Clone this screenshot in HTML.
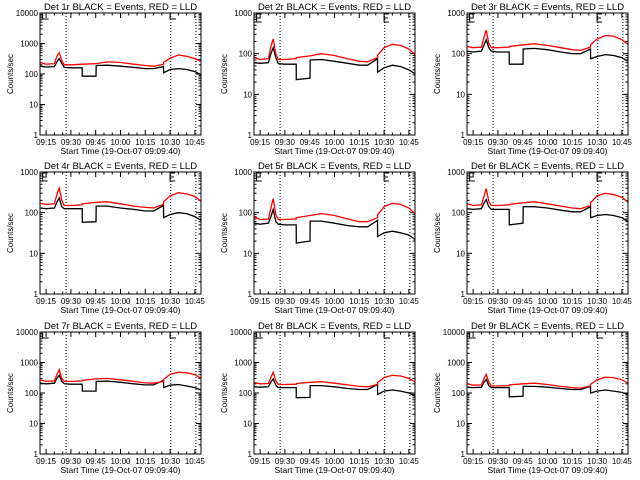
<!DOCTYPE html>
<html><head><meta charset="utf-8"><style>
html,body{margin:0;padding:0;background:#fff;width:640px;height:480px;overflow:hidden}
svg{display:block}
text{font-family:"Liberation Sans",sans-serif;fill:#000}
</style></head><body>
<svg id="chart" width="640" height="480" viewBox="0 0 640 480" xmlns="http://www.w3.org/2000/svg"></svg>
<script>
// minutes after 09:00
const times=[11.3,15,20,21.5,22.9,24.5,26,30,36.8,36.9,45.2,45.3,52,60,68,75,80,86,86.1,90,95,100,105,108.7];
const tickLabels=["09:15","09:30","09:45","10:00","10:15","10:30","10:45"];
const tickMinutes=[15,30,45,60,75,90,105];
const markerMinutes=[27.1,90.4,105.6];
const detNames=["1r","2r","3r","4r","5r","6r","7r","8r","9r"];
const yMaxes=[10000,1000,1000,1000,1000,1000,10000,10000,10000];
const black1=[180,170,175,250,320,220,165,160,160,85,85,190,195,180,165,150,150,175,110,140,150,140,120,95];
const red1=[240,210,220,380,500,280,200,200,210,210,220,220,250,240,210,190,180,210,240,330,420,380,320,260];
const black2=[60,58,60,100,140,80,57,55,55,23,25,70,72,65,58,52,52,75,35,45,52,48,40,32];
const red2=[80,72,75,150,230,100,72,72,75,80,88,88,100,90,75,65,63,80,92,140,170,160,130,95];
const black3=[115,110,115,160,220,140,115,110,110,55,55,130,135,125,110,100,100,130,75,85,95,90,80,65];
const red3=[150,140,145,250,380,180,140,140,145,150,165,165,175,160,140,125,120,145,165,230,280,270,220,170];
const black4=[130,125,130,180,230,140,125,125,125,58,60,145,145,130,120,110,110,150,75,90,100,95,80,65];
const red4=[170,160,165,280,400,200,150,150,155,165,180,180,185,165,145,135,130,160,185,260,310,290,250,190];
const black5=[55,52,55,80,120,60,52,50,50,18,20,62,62,55,48,45,45,65,26,32,35,32,28,22];
const red5=[80,68,70,130,220,90,68,68,70,75,85,85,95,85,70,60,60,75,88,140,170,160,130,95];
const black6=[125,120,125,170,210,140,120,120,120,50,55,140,140,130,115,105,105,140,75,85,90,85,75,60];
const red6=[165,150,155,250,390,190,150,150,155,160,175,175,185,165,145,130,125,150,175,260,300,280,240,180];
const black7=[210,200,210,300,380,240,200,195,195,115,115,240,245,225,200,185,185,260,150,180,190,170,150,125];
const red7=[270,240,250,400,580,300,240,240,250,260,290,290,300,270,240,215,210,240,280,410,480,460,400,300];
const black8=[160,155,160,230,290,180,150,150,150,70,72,175,175,160,140,130,130,190,90,115,125,115,100,80];
const red8=[220,200,205,330,480,250,190,190,195,205,225,225,235,210,185,165,160,190,220,320,380,360,300,230];
const black9=[155,150,155,220,280,175,150,150,150,75,78,165,165,155,140,130,130,165,100,115,125,115,105,88];
const red9=[200,180,185,290,410,230,170,170,175,185,200,200,210,190,165,150,145,170,195,270,330,320,270,210];
const blacks=[black1,black2,black3,black4,black5,black6,black7,black8,black9];
const reds=[red1,red2,red3,red4,red5,red6,red7,red8,red9];

const NS="http://www.w3.org/2000/svg";
const svg=document.getElementById('chart');
const colL=[40,254,467], rowT=[13,172,332], W=161, H=122;
const T0=11.3, T1=108.7;
function mk(tag,attrs,parent){const e=document.createElementNS(NS,tag);for(const k in attrs)e.setAttribute(k,attrs[k]);parent.appendChild(e);return e;}

for(let p=0;p<9;p++){
  const L=colL[p%3], T=rowT[Math.floor(p/3)], ymax=yMaxes[p];
  const dec=Math.log10(ymax);
  const xs=m=>L+(m-T0)/(T1-T0)*W;
  const ys=v=>T+H-Math.log10(v)/dec*H;
  const g=mk('g',{},svg);
  
  
  const t=mk('text',{x:L+W/2,y:T-3,'text-anchor':'middle','font-size':'9.5'},g);
  t.textContent='Det '+detNames[p]+' BLACK = Events, RED = LLD';
  
  
  for(let d=0;d<=dec;d++){
    const v=Math.pow(10,d), y=ys(v);
    mk('line',{x1:L,x2:L+5,y1:y,y2:y,stroke:'#000'},g);
    mk('line',{x1:L+W-5,x2:L+W,y1:y,y2:y,stroke:'#000'},g);
    const lb=mk('text',{x:L-2,y:y+3,'text-anchor':'end','font-size':'8'},g);
    lb.textContent=String(v);
    
    
    if(d<dec){for(let k=2;k<10;k++){const yy=ys(v*k);
      mk('line',{x1:L,x2:L+2.5,y1:yy,y2:yy,stroke:'#000'},g);
      mk('line',{x1:L+W-2.5,x2:L+W,y1:yy,y2:yy,stroke:'#000'},g);}}
  }
  const yt=mk('text',{x:0,y:0,'text-anchor':'middle','font-size':'8',transform:'translate('+(L-27)+','+(T+H/2)+') rotate(-90)'},g);
  yt.textContent='Counts/sec';
  
  
  for(let m=15;m<=105;m+=5){const x=xs(m),len=(m%15===0)?5:2.5;
    mk('line',{x1:x,x2:x,y1:T+H,y2:T+H-len,stroke:'#000'},g);
    mk('line',{x1:x,x2:x,y1:T,y2:T+len,stroke:'#000'},g);}
  tickMinutes.forEach((m,i)=>{const lb=mk('text',{x:xs(m),y:T+H+10,'text-anchor':'middle','font-size':'8'},g);
    lb.textContent=tickLabels[i];
    
    });
  const xt=mk('text',{x:L+W/2,y:T+H+19,'text-anchor':'middle','font-size':'8.5'},g);
  xt.textContent='Start Time (19-Oct-07 09:09:40)';
  
  
  markerMinutes.forEach(m=>{const x=xs(m);
    const ln=mk('line',{x1:x,x2:x,y1:T,y2:T+H,stroke:'#000','stroke-dasharray':'1,2'},g);
    
    });
  [12.9,90].forEach(m=>{const x=xs(m);
    const d=dec===4?('M'+x+','+T+' V'+(T+6)+' H'+(x+6)):('M'+(x+5)+','+(T+1)+' H'+x+' V'+(T+9)+' H'+(x+5)+' M'+x+','+(T+5)+' H'+(x+4));
    mk('path',{d:d,fill:'none',stroke:'#000'},g);});
  const pts=a=>a.map((v,i)=>xs(times[i]).toFixed(1)+','+ys(v).toFixed(1)).join(' ');
  const bl=mk('polyline',{points:pts(blacks[p]),fill:'none',stroke:'#000','stroke-width':'1.3'},g);
  
  
  const rl=mk('polyline',{points:pts(reds[p]),fill:'none',stroke:'#f00','stroke-width':'1.3'},g);
  
  
  const box=mk('rect',{x:L,y:T,width:W,height:H,fill:'none',stroke:'#000'},g);
  
  
}
</script>
</body></html>
